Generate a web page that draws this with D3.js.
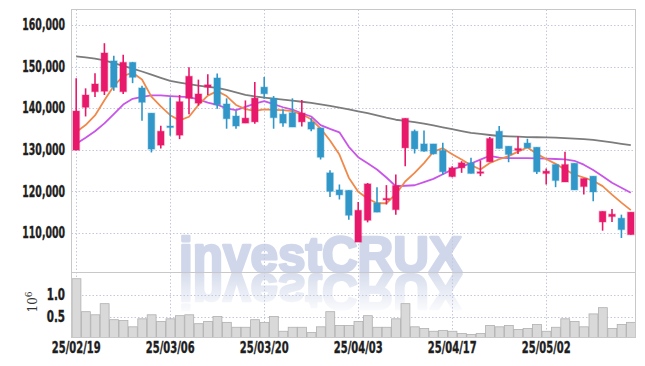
<!DOCTYPE html>
<html>
<head>
<meta charset="utf-8">
<script src="https://cdn.jsdelivr.net/npm/d3@7"></script>
<style>
  body { margin: 0; background: #fff; }
  #chart { width: 645px; height: 366px; }
  .lbl { font-family: "Liberation Sans Narrow", "DejaVu Sans Condensed", "Roboto", sans-serif; font-weight: bold; fill: #1e1e1e; stroke: #1e1e1e; stroke-width: 0.35px; }
</style>
</head>
<body>
<div id="chart"></div>
<script>
// trading days (yy/mm/dd)
var dates = ["25/02/19","25/02/20","25/02/21","25/02/24","25/02/25","25/02/26","25/02/27","25/02/28","25/03/04","25/03/05",
  "25/03/06","25/03/07","25/03/10","25/03/11","25/03/12","25/03/13","25/03/14","25/03/17","25/03/18","25/03/19",
  "25/03/20","25/03/21","25/03/24","25/03/25","25/03/26","25/03/27","25/03/28","25/03/31","25/04/01","25/04/02",
  "25/04/03","25/04/04","25/04/07","25/04/08","25/04/09","25/04/10","25/04/11","25/04/14","25/04/15","25/04/16",
  "25/04/17","25/04/18","25/04/21","25/04/22","25/04/23","25/04/24","25/04/25","25/04/28","25/04/29","25/04/30",
  "25/05/02","25/05/07","25/05/08","25/05/09","25/05/12","25/05/13","25/05/14","25/05/15","25/05/16","25/05/19"];

var open  = [129900,140200,143950,144050,151350,143950,151000,144850,138800,131100,
  135700,133500,142350,141200,145050,147250,141000,138100,136400,136700,
  145050,142350,138550,138900,136700,136650,135250,124450,120350,120250,
  107800,113050,117200,118200,115600,130450,134450,131400,131400,129850,
  123550,125650,126850,124550,127100,134450,130850,129850,131600,130600,
  124300,126450,122250,126750,121150,123650,112650,113950,113550,109600];
var high  = [147200,144750,148400,155600,152600,152800,151100,145400,138800,135750,
  142600,143150,149800,146850,148150,148350,142350,139300,141850,146300,
  147500,142900,139700,142350,141950,137550,135250,125100,121650,120250,
  117450,122000,121000,121500,124050,137550,134850,134650,131400,131650,
  126050,127250,128050,127450,133050,135700,130850,133250,132650,130600,
  125500,126450,129500,126750,123100,123650,115200,115750,114400,115000];
var low   = [129900,138000,142700,143150,144200,143400,146000,136950,129350,130300,
  133350,132550,138550,140600,143150,139850,135050,135050,136400,136250,
  142250,135050,135500,135450,135600,134450,127650,118650,118050,113200,
  107800,112550,115000,116850,114400,126050,129100,129500,128850,123900,
  123400,124450,124300,123650,127100,130300,127000,129000,130450,124200,
  121650,121000,122250,120350,119250,117600,110550,112650,108800,109600];
var close = [139300,143150,145800,153250,145000,151000,147400,141400,130150,134450,
  135550,141550,147650,143400,145600,140800,137450,135700,137600,142400,
  143450,137700,136400,135450,138800,134950,128200,120000,119150,114250,
  115450,121800,115000,118300,121400,137550,130200,129650,129000,124700,
  125650,126850,124300,124700,132700,130300,128850,130300,130450,124700,
  124850,122600,126450,120350,123100,119850,115200,114500,110800,115000];

// volume, x 10^6
var volume = [1.36,0.62,0.55,0.80,0.44,0.42,0.28,0.46,0.55,0.40,
  0.46,0.53,0.55,0.35,0.40,0.51,0.38,0.27,0.27,0.44,
  0.38,0.51,0.18,0.27,0.27,0.15,0.28,0.62,0.31,0.31,
  0.40,0.53,0.27,0.27,0.46,0.80,0.28,0.24,0.18,0.20,
  0.18,0.13,0.11,0.13,0.31,0.28,0.31,0.22,0.24,0.33,
  0.18,0.27,0.46,0.40,0.28,0.57,0.71,0.24,0.33,0.38];

// moving averages as drawn
var ma5  = [134280,135920,138230,141870,145290,147720,148510,146880,142760,140420,
  138300,137050,137920,140760,143000,144080,142900,140760,139750,139360,
  139700,139600,139530,139290,138520,137310,135100,132210,128840,123280,
  119890,118270,117140,117140,119310,122370,124440,126800,129520,130380,
  128910,127660,126290,125250,126820,127710,128480,129540,130530,129010,
  127780,126600,125280,124000,123330,122530,121250,119210,117300,115480];
var ma20 = [131440,132890,134450,136330,138570,140860,142230,142690,143050,143050,
  142900,142760,142640,142080,141340,140810,139940,139510,140300,141070,
  141670,140950,140210,139650,138760,137990,135920,135010,134190,130700,
  128210,126770,125250,123330,121230,121350,121470,122240,122990,124120,
  125230,125980,126700,127640,128550,128120,127970,127970,127970,127930,
  127850,127780,127680,127350,126410,125130,123610,122050,120850,119670];
var ma60 = [152450,152180,151900,151480,150800,150150,149480,148800,148050,147290,
  146540,146150,145770,145400,145100,144850,144370,143790,143210,142800,
  142540,142300,142050,141780,141530,141270,140880,140520,140130,139700,
  139240,138780,138250,137700,137210,136930,136640,136300,135850,135390,
  134950,134500,134040,133800,133540,133300,133200,133130,133050,133000,
  132950,132890,132790,132670,132550,132380,132070,131750,131420,131100];

var priceTicks = [110000,120000,130000,140000,150000,160000];
var volTicks = [0.5,1.0];
var dateTicks = ["25/02/19","25/03/06","25/03/20","25/04/03","25/04/17","25/05/02"];

(function () {
var W = 645, H = 366;
var left = 71.5, right = 635.5, plotTop = 9.5, mid = 272.5, bottom = 337.5;
var upColor = "#e8196b", downColor = "#3197c9";
var charW = 6.1; // narrow label font, px per glyph

var svg = d3.select("#chart").append("svg")
    .attr("width", W).attr("height", H);

var x = d3.scaleBand().domain(dates).range([left, right]).paddingInner(0.3).paddingOuter(0.15);
var cx = d => x(d) + x.bandwidth() / 2;
var y = d3.scaleLinear().domain([100500, 163700]).range([mid, plotTop]);
var yv = d3.scaleLinear().domain([0.04, 1.5]).range([bottom, mid]);

// watermark
var defs = svg.append("defs");
var grad = defs.append("linearGradient").attr("id", "fade").attr("x1", 0).attr("y1", 0).attr("x2", 0).attr("y2", 1);
grad.append("stop").attr("offset", "0%").attr("stop-color", "#fff").attr("stop-opacity", 0.85);
grad.append("stop").attr("offset", "100%").attr("stop-color", "#fff").attr("stop-opacity", 0);
defs.append("mask").attr("id", "fmask").attr("maskUnits", "userSpaceOnUse")
    .attr("x", 0).attr("y", mid).attr("width", W).attr("height", 44)
  .append("rect").attr("x", 0).attr("y", mid).attr("width", W).attr("height", 44).attr("fill", "url(#fade)");

function mark(g) {
  return g.append("text").attr("x", 179).attr("y", mid - 1)
      .attr("font-family", "Liberation Sans, Arial, sans-serif").attr("font-weight", "bold")
      .attr("font-size", 50).attr("textLength", 283).attr("lengthAdjust", "spacingAndGlyphs")
      .attr("fill", "#d0d7ea").attr("stroke", "#d0d7ea").attr("stroke-width", 2.6)
      .attr("stroke-linejoin", "round").text("investCRUX");
}
var wm = svg.append("g");
mark(wm);
mark(wm.append("g").attr("mask", "url(#fmask)"))
    .attr("transform", `translate(0,${2 * mid}) scale(1,-1)`);

// grid
var grid = svg.append("g").attr("stroke", "#c4c8dc").attr("stroke-dasharray", "1.5,2").attr("stroke-width", 1);
grid.selectAll(".hg").data(priceTicks).enter().append("line")
    .attr("x1", left).attr("x2", right)
    .attr("y1", d => Math.round(y(d)) + 0.5).attr("y2", d => Math.round(y(d)) + 0.5);
grid.selectAll(".vg").data(volTicks).enter().append("line")
    .attr("x1", left).attr("x2", right)
    .attr("y1", d => Math.round(yv(d)) + 0.5).attr("y2", d => Math.round(yv(d)) + 0.5);
grid.selectAll(".xg").data(dateTicks).enter().append("line")
    .attr("y1", plotTop).attr("y2", bottom)
    .attr("x1", d => Math.round(cx(d)) + 0.5).attr("x2", d => Math.round(cx(d)) + 0.5);

// volume bars
svg.append("g").selectAll("rect").data(volume).enter().append("rect")
    .attr("x", (d, i) => x(dates[i]) - x.step() * 0.15 + 0.5)
    .attr("width", x.step() - 0.5)
    .attr("y", d => yv(d))
    .attr("height", d => bottom - yv(d))
    .attr("fill", "#d9d9d9").attr("stroke", "#b0b0b0").attr("stroke-width", 0.8);

// moving averages
var line = d3.line().x((d, i) => cx(dates[i])).y(d => y(d));
[[ma60, "#7c7c7c"], [ma20, "#c955e8"], [ma5, "#ef8a4c"]].forEach(function (m) {
  svg.append("path").datum(m[0]).attr("d", line)
      .attr("fill", "none").attr("stroke", m[1]).attr("stroke-width", 1.8).attr("stroke-linejoin", "round");
});

// candles
var cd = dates.map((d, i) => ({d: d, o: open[i], h: high[i], l: low[i], c: close[i]}));
var col = d => d.c >= d.o ? upColor : downColor;
var cg = svg.append("g").selectAll("g").data(cd).enter().append("g");
cg.append("line")
    .attr("x1", d => cx(d.d)).attr("x2", d => cx(d.d))
    .attr("y1", d => y(d.h)).attr("y2", d => y(d.l))
    .attr("stroke", col).attr("stroke-width", 1.6);
cg.append("rect")
    .attr("x", d => x(d.d)).attr("width", x.bandwidth())
    .attr("y", d => y(Math.max(d.o, d.c)))
    .attr("height", d => Math.max(1.5, Math.abs(y(d.o) - y(d.c))))
    .attr("fill", col).attr("stroke", col)
    .attr("stroke-opacity", 0.3).attr("stroke-width", 1.4);

// frame
var fr = svg.append("g").attr("stroke", "#c8c8c8").attr("fill", "none");
fr.append("rect").attr("x", left).attr("y", plotTop).attr("width", right - left).attr("height", bottom - plotTop);
fr.append("line").attr("x1", left).attr("x2", right).attr("y1", mid).attr("y2", mid);

// axis labels
function styleLabels(g) {
  g.select(".domain").remove();
  g.selectAll("text").attr("class", "lbl").attr("font-size", 15)
      .attr("lengthAdjust", "spacingAndGlyphs")
      .attr("textLength", function () { return this.textContent.length * charW; });
}
svg.append("g").attr("transform", `translate(${left - 0.5},0)`)
    .call(d3.axisLeft(y).tickValues(priceTicks).tickFormat(d3.format(",")).tickSize(0).tickPadding(6))
    .call(styleLabels);
svg.append("g").attr("transform", `translate(${left - 0.5},0)`)
    .call(d3.axisLeft(yv).tickValues(volTicks).tickFormat(d3.format(".1f")).tickSize(0).tickPadding(6))
    .call(styleLabels);
svg.append("g").attr("transform", `translate(0,${bottom})`)
    .call(d3.axisBottom(x).tickValues(dateTicks).tickSize(0).tickPadding(5))
    .call(styleLabels);

var exp = svg.append("text").attr("transform", "translate(37,302) rotate(-90)")
    .attr("text-anchor", "middle").attr("font-family", "DejaVu Serif, serif").attr("font-size", 12).attr("fill", "#333");
exp.append("tspan").text("10");
exp.append("tspan").attr("dy", -5).attr("font-size", 9).text("6");
})();
</script>
</body>
</html>
